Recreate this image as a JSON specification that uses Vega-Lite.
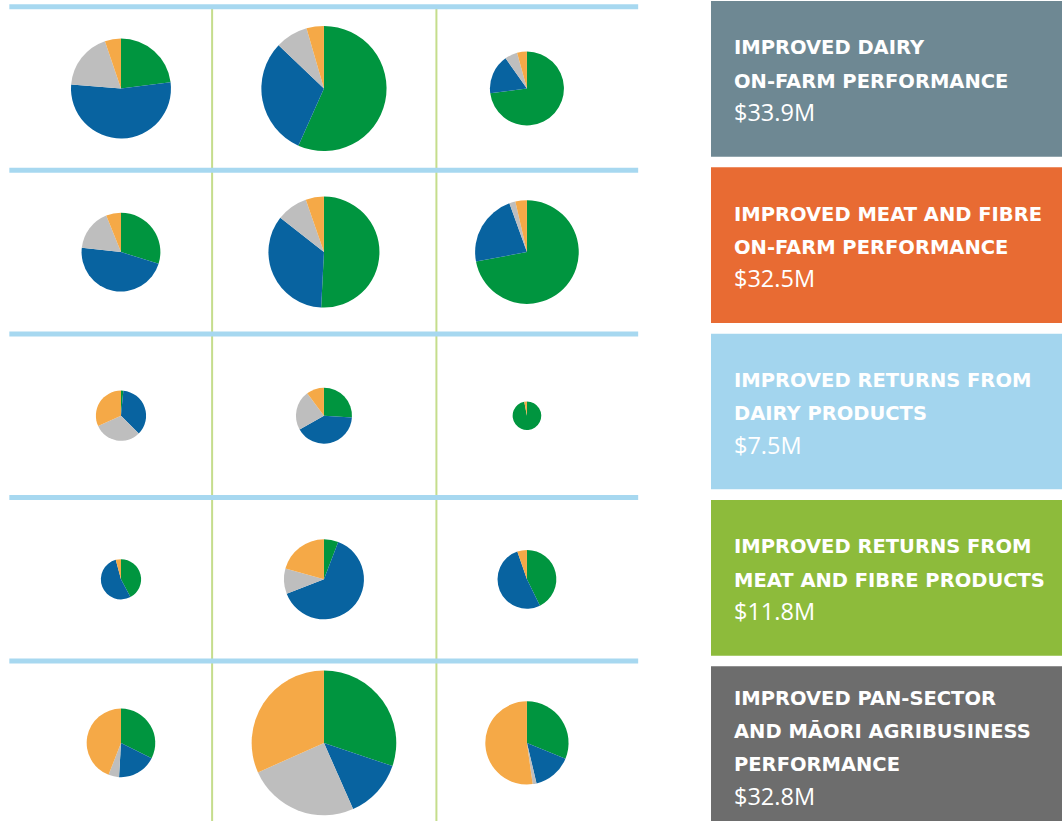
{
  "$schema": "https://vega.github.io/schema/vega-lite/v6.json",
  "padding": 0,
  "spacing": 70,
  "background": "white",
  "config": {"view": {"stroke": null}},
  "resolve": {"scale": {"color": "independent"}},
  "datasets": {
    "slices": [
      {"row":1,"col":1,"seg":"Segment 1","pct":23.0,"total":10.87},
      {"row":1,"col":1,"seg":"Segment 2","pct":53.3,"total":10.87},
      {"row":1,"col":1,"seg":"Segment 3","pct":18.5,"total":10.87},
      {"row":1,"col":1,"seg":"Segment 4","pct":5.2,"total":10.87},
      {"row":1,"col":2,"seg":"Segment 1","pct":56.7,"total":17.04},
      {"row":1,"col":2,"seg":"Segment 2","pct":30.4,"total":17.04},
      {"row":1,"col":2,"seg":"Segment 3","pct":8.4,"total":17.04},
      {"row":1,"col":2,"seg":"Segment 4","pct":4.5,"total":17.04},
      {"row":1,"col":3,"seg":"Segment 1","pct":72.9,"total":5.95},
      {"row":1,"col":3,"seg":"Segment 2","pct":17.2,"total":5.95},
      {"row":1,"col":3,"seg":"Segment 3","pct":5.5,"total":5.95},
      {"row":1,"col":3,"seg":"Segment 4","pct":4.3,"total":5.95},
      {"row":2,"col":1,"seg":"Segment 1","pct":29.8,"total":6.75},
      {"row":2,"col":1,"seg":"Segment 2","pct":47.0,"total":6.75},
      {"row":2,"col":1,"seg":"Segment 3","pct":17.1,"total":6.75},
      {"row":2,"col":1,"seg":"Segment 4","pct":6.1,"total":6.75},
      {"row":2,"col":2,"seg":"Segment 1","pct":50.8,"total":13.39},
      {"row":2,"col":2,"seg":"Segment 2","pct":34.8,"total":13.39},
      {"row":2,"col":2,"seg":"Segment 3","pct":9.1,"total":13.39},
      {"row":2,"col":2,"seg":"Segment 4","pct":5.3,"total":13.39},
      {"row":2,"col":3,"seg":"Segment 1","pct":72.1,"total":11.67},
      {"row":2,"col":3,"seg":"Segment 2","pct":22.4,"total":11.67},
      {"row":2,"col":3,"seg":"Segment 3","pct":1.9,"total":11.67},
      {"row":2,"col":3,"seg":"Segment 4","pct":3.6,"total":11.67},
      {"row":3,"col":1,"seg":"Segment 1","pct":1.5,"total":2.74},
      {"row":3,"col":1,"seg":"Segment 2","pct":36.0,"total":2.74},
      {"row":3,"col":1,"seg":"Segment 3","pct":30.7,"total":2.74},
      {"row":3,"col":1,"seg":"Segment 4","pct":31.8,"total":2.74},
      {"row":3,"col":2,"seg":"Segment 1","pct":26.0,"total":3.41},
      {"row":3,"col":2,"seg":"Segment 2","pct":40.8,"total":3.41},
      {"row":3,"col":2,"seg":"Segment 3","pct":23.0,"total":3.41},
      {"row":3,"col":2,"seg":"Segment 4","pct":10.2,"total":3.41},
      {"row":3,"col":3,"seg":"Segment 1","pct":97.0,"total":0.89},
      {"row":3,"col":3,"seg":"Segment 4","pct":3.0,"total":0.89},
      {"row":4,"col":1,"seg":"Segment 1","pct":42.2,"total":1.76},
      {"row":4,"col":1,"seg":"Segment 2","pct":53.6,"total":1.76},
      {"row":4,"col":1,"seg":"Segment 4","pct":4.2,"total":1.76},
      {"row":4,"col":2,"seg":"Segment 1","pct":5.8,"total":6.96},
      {"row":4,"col":2,"seg":"Segment 2","pct":63.3,"total":6.96},
      {"row":4,"col":2,"seg":"Segment 3","pct":10.2,"total":6.96},
      {"row":4,"col":2,"seg":"Segment 4","pct":20.7,"total":6.96},
      {"row":4,"col":3,"seg":"Segment 1","pct":42.7,"total":3.76},
      {"row":4,"col":3,"seg":"Segment 2","pct":52.0,"total":3.76},
      {"row":4,"col":3,"seg":"Segment 4","pct":5.3,"total":3.76},
      {"row":5,"col":1,"seg":"Segment 1","pct":32.4,"total":5.11},
      {"row":5,"col":1,"seg":"Segment 2","pct":18.5,"total":5.11},
      {"row":5,"col":1,"seg":"Segment 3","pct":5.0,"total":5.11},
      {"row":5,"col":1,"seg":"Segment 4","pct":44.1,"total":5.11},
      {"row":5,"col":2,"seg":"Segment 1","pct":30.2,"total":22.73},
      {"row":5,"col":2,"seg":"Segment 2","pct":13.2,"total":22.73},
      {"row":5,"col":2,"seg":"Segment 3","pct":24.9,"total":22.73},
      {"row":5,"col":2,"seg":"Segment 4","pct":31.7,"total":22.73},
      {"row":5,"col":3,"seg":"Segment 1","pct":31.2,"total":7.53},
      {"row":5,"col":3,"seg":"Segment 2","pct":15.1,"total":7.53},
      {"row":5,"col":3,"seg":"Segment 3","pct":1.5,"total":7.53},
      {"row":5,"col":3,"seg":"Segment 4","pct":52.2,"total":7.53}
    ],
    "hlines": [{"b":0.5},{"b":1.5},{"b":2.5},{"b":3.5},{"b":4.5},{"b":5.5}],
    "vlines": [{"v":1.449},{"v":2.554}],
    "boxes": [
      {"k":1,"name":"Improved dairy on-farm performance","caps":["IMPROVED DAIRY","ON-FARM PERFORMANCE"],"amt":"$33.9M"},
      {"k":2,"name":"Improved meat and fibre on-farm performance","caps":["IMPROVED MEAT AND FIBRE","ON-FARM PERFORMANCE"],"amt":"$32.5M"},
      {"k":3,"name":"Improved returns from dairy products","caps":["IMPROVED RETURNS FROM","DAIRY PRODUCTS"],"amt":"$7.5M"},
      {"k":4,"name":"Improved returns from meat and fibre products","caps":["IMPROVED RETURNS FROM","MEAT AND FIBRE PRODUCTS"],"amt":"$11.8M"},
      {"k":5,"name":"Improved pan-sector and Māori agribusiness performance","caps":["IMPROVED PAN-SECTOR","AND MĀORI AGRIBUSINESS","PERFORMANCE"],"amt":"$32.8M"}
    ]
  },
  "hconcat": [
    {
      "width": 640,
      "height": 821,
      "layer": [
        {
          "data": {"name": "vlines"},
          "mark": {"type": "rule", "color": "#c5dd8c", "strokeWidth": 2},
          "encoding": {
            "x": {"field": "v", "type": "quantitative", "scale": {"domain": [0.404, 3.557], "zero": false, "nice": false}, "axis": null},
            "y": {"datum": 0.5, "type": "quantitative", "scale": {"domain": [0.4652, 5.4835], "zero": false, "nice": false, "reverse": true}, "axis": null},
            "y2": {"datum": 5.5}
          }
        },
        {
          "data": {"name": "hlines"},
          "mark": {"type": "rule", "color": "#a7d8f0", "strokeWidth": 5},
          "encoding": {
            "y": {"field": "b", "type": "quantitative"},
            "x": {"datum": 0.45, "type": "quantitative"},
            "x2": {"datum": 3.548}
          }
        },
        {
          "data": {"name": "slices"},
          "transform": [
            {"stack": "pct", "groupby": ["row", "col"], "sort": [{"field": "seg", "order": "ascending"}], "offset": "normalize", "as": ["t0", "t1"]}
          ],
          "mark": {"type": "arc"},
          "encoding": {
            "x": {"field": "col", "type": "quantitative"},
            "y": {"field": "row", "type": "quantitative"},
            "theta": {"field": "t0", "type": "quantitative", "scale": {"domain": [0, 1]}},
            "theta2": {"field": "t1"},
            "radius": {"field": "total", "type": "quantitative", "scale": {"type": "sqrt", "domain": [0, 25], "range": [0, 75.83], "zero": true}},
            "color": {"field": "seg", "type": "nominal", "scale": {"domain": ["Segment 1", "Segment 2", "Segment 3", "Segment 4"], "range": ["#00953f", "#0863a0", "#bebebe", "#f5a947"]}, "legend": null}
          }
        }
      ]
    },
    {
      "width": 352,
      "height": 821,
      "data": {"name": "boxes"},
      "layer": [
        {
          "mark": {"type": "rect"},
          "encoding": {
            "y": {"field": "k", "type": "ordinal", "scale": {"paddingInner": 0.064, "paddingOuter": 0}, "axis": null},
            "x": {"datum": 0, "type": "quantitative", "scale": {"domain": [0, 1], "zero": false, "nice": false}, "axis": null},
            "x2": {"datum": 1},
            "color": {"field": "name", "type": "nominal", "scale": {"domain": ["Improved dairy on-farm performance", "Improved meat and fibre on-farm performance", "Improved returns from dairy products", "Improved returns from meat and fibre products", "Improved pan-sector and Māori agribusiness performance"], "range": ["#6e8893", "#e86b33", "#a3d5ee", "#8dbb3b", "#6d6d6d"]}, "legend": null}
          }
        },
        {
          "transform": [{"filter": "length(datum.caps) == 2"}],
          "mark": {"type": "text", "align": "left", "baseline": "alphabetic", "dx": 23, "dy": -24.5, "lineHeight": 33.3, "font": "DejaVu Sans", "fontWeight": "bold", "fontSize": 19.5, "color": "white"},
          "encoding": {
            "y": {"field": "k", "type": "ordinal"},
            "x": {"datum": 0, "type": "quantitative"},
            "text": {"field": "caps"}
          }
        },
        {
          "transform": [{"filter": "length(datum.caps) == 2"}],
          "mark": {"type": "text", "align": "left", "baseline": "alphabetic", "dx": 23, "dy": 42, "font": "Open Sans", "fontSize": 23.5, "color": "white"},
          "encoding": {
            "y": {"field": "k", "type": "ordinal"},
            "x": {"datum": 0, "type": "quantitative"},
            "text": {"field": "amt"}
          }
        },
        {
          "transform": [{"filter": "length(datum.caps) == 3"}],
          "mark": {"type": "text", "align": "left", "baseline": "alphabetic", "dx": 23, "dy": -39.5, "lineHeight": 33.3, "font": "DejaVu Sans", "fontWeight": "bold", "fontSize": 19.5, "color": "white"},
          "encoding": {
            "y": {"field": "k", "type": "ordinal"},
            "x": {"datum": 0, "type": "quantitative"},
            "text": {"field": "caps"}
          }
        },
        {
          "transform": [{"filter": "length(datum.caps) == 3"}],
          "mark": {"type": "text", "align": "left", "baseline": "alphabetic", "dx": 23, "dy": 60.4, "font": "Open Sans", "fontSize": 23.5, "color": "white"},
          "encoding": {
            "y": {"field": "k", "type": "ordinal"},
            "x": {"datum": 0, "type": "quantitative"},
            "text": {"field": "amt"}
          }
        }
      ]
    }
  ]
}
